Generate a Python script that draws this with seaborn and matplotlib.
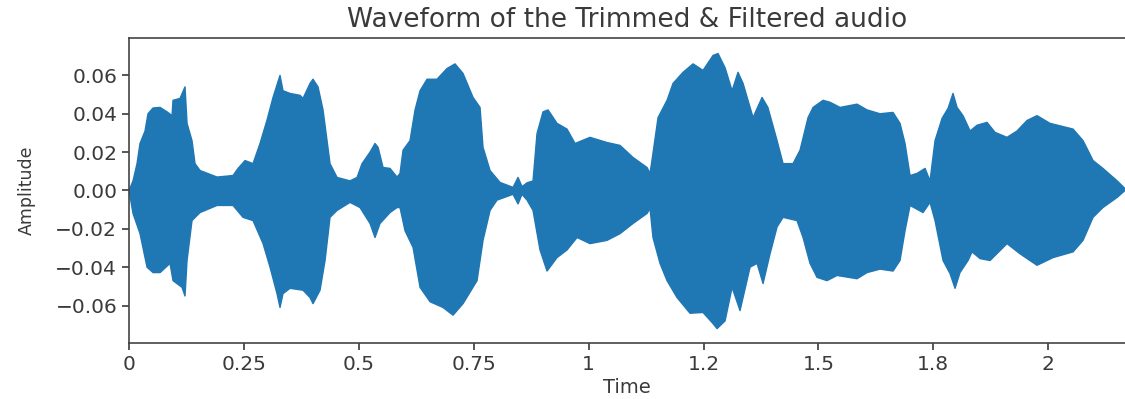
import numpy as np
import matplotlib
matplotlib.use("Agg")
import matplotlib.pyplot as plt
import seaborn as sns

# Upper envelope of the waveform (time in s, amplitude)
upper_t = [0.000, 0.0087, 0.0174, 0.0239, 0.0348, 0.0413, 0.0522, 0.0675, 0.0827, 0.0936,
           0.0957, 0.111, 0.1218, 0.1262, 0.137, 0.1436, 0.1545, 0.1915, 0.2263, 0.2372,
           0.2524, 0.2698, 0.285, 0.300, 0.3133, 0.322, 0.3285, 0.335, 0.3503, 0.372,
           0.3786, 0.3938, 0.4003, 0.4112, 0.4221, 0.4308, 0.4373, 0.4526, 0.4808, 0.4961,
           0.507, 0.5244, 0.5352, 0.5418, 0.5527, 0.5679, 0.5831, 0.5896, 0.5962, 0.6114,
           0.6223, 0.6332, 0.6484, 0.6701, 0.6919, 0.7093, 0.7267, 0.7485, 0.7637, 0.7702,
           0.7855, 0.8072, 0.8355, 0.8464, 0.855, 0.866, 0.879, 0.8877, 0.9008, 0.9117,
           0.9312, 0.953, 0.9704, 1.003, 1.040, 1.0683, 1.0966, 1.127, 1.1336, 1.140,
           1.151, 1.1706, 1.1836, 1.2054, 1.2272, 1.2489, 1.2707, 1.2816, 1.2968, 1.3121,
           1.325, 1.336, 1.3577, 1.3773, 1.390, 1.410, 1.423, 1.4447, 1.460, 1.4774,
           1.4883, 1.510, 1.5252, 1.547, 1.584, 1.6058, 1.634, 1.6623, 1.6775, 1.6884,
           1.6993, 1.7145, 1.732, 1.7428, 1.7537, 1.769, 1.782, 1.7928, 1.8016, 1.8146,
           1.830, 1.845, 1.8668, 1.8842, 1.9103, 1.932, 1.9539, 1.9756, 2.0039, 2.054,
           2.0757, 2.0975, 2.119, 2.150, 2.167]
upper_a = [0.000, 0.005, 0.014, 0.0245, 0.031, 0.040, 0.043, 0.0433, 0.041, 0.039,
           0.047, 0.048, 0.054, 0.035, 0.026, 0.014, 0.0104, 0.007, 0.0078, 0.0115,
           0.0156, 0.014, 0.0245, 0.0365, 0.0485, 0.055, 0.060, 0.052, 0.0506, 0.0496,
           0.048, 0.0558, 0.058, 0.054, 0.042, 0.026, 0.014, 0.0068, 0.005, 0.0068,
           0.014, 0.020, 0.0245, 0.0225, 0.012, 0.0115, 0.007, 0.0089, 0.021, 0.026,
           0.042, 0.052, 0.058, 0.058, 0.0636, 0.066, 0.061, 0.0485, 0.0433, 0.0225,
           0.0104, 0.0042, 0.0016, 0.0068, 0.002, 0.004, 0.005, 0.0297, 0.041, 0.042,
           0.035, 0.032, 0.0245, 0.0277, 0.025, 0.0235, 0.0172, 0.012, 0.0089, 0.0193,
           0.038, 0.047, 0.0558, 0.0616, 0.066, 0.0626, 0.0704, 0.0714, 0.064, 0.052,
           0.0616, 0.0558, 0.038, 0.0485, 0.0433, 0.026, 0.014, 0.014, 0.021, 0.038,
           0.0433, 0.047, 0.046, 0.0433, 0.045, 0.042, 0.040, 0.0407, 0.035, 0.0245,
           0.0078, 0.0089, 0.0115, 0.005, 0.026, 0.0376, 0.0428, 0.0506, 0.0433, 0.039,
           0.031, 0.034, 0.0355, 0.0303, 0.0277, 0.031, 0.0365, 0.039, 0.035, 0.032,
           0.026, 0.0156, 0.0115, 0.005, 0.001]

# Lower envelope of the waveform
lower_t = [0.000, 0.0087, 0.0239, 0.0392, 0.0522, 0.0675, 0.0892, 0.0957, 0.1153, 0.1218,
           0.1262, 0.137, 0.1545, 0.1915, 0.2263, 0.248, 0.2698, 0.2916, 0.3068, 0.322,
           0.3285, 0.335, 0.3503, 0.3786, 0.3938, 0.4003, 0.4156, 0.4265, 0.4373, 0.4526,
           0.4808, 0.5026, 0.5244, 0.5352, 0.5461, 0.5679, 0.5831, 0.5896, 0.6005, 0.618,
           0.6332, 0.655, 0.6832, 0.705, 0.7267, 0.7572, 0.7702, 0.7855, 0.8007, 0.8355,
           0.8464, 0.855, 0.866, 0.879, 0.8942, 0.9095, 0.9312, 0.953, 0.9748, 1.003,
           1.040, 1.0683, 1.0966, 1.127, 1.1336, 1.140, 1.1553, 1.1706, 1.1923, 1.2206,
           1.2489, 1.2707, 1.2794, 1.2968, 1.3121, 1.3294, 1.3512, 1.3664, 1.3795, 1.3947,
           1.410, 1.423, 1.4534, 1.4665, 1.4817, 1.497, 1.5187, 1.5405, 1.584, 1.6058,
           1.634, 1.6623, 1.6775, 1.6884, 1.6993, 1.7276, 1.7428, 1.7537, 1.7711, 1.7863,
           1.7972, 1.808, 1.8255, 1.8342, 1.8516, 1.8734, 1.9103, 1.9386, 1.9756, 2.0104,
           2.054, 2.0757, 2.0975, 2.119, 2.150, 2.167]
lower_a = [0.000, -0.012, -0.0225, -0.040, -0.0428, -0.0428, -0.038, -0.047, -0.0505, -0.055,
           -0.0365, -0.0157, -0.0115, -0.0078, -0.0078, -0.014, -0.0157, -0.0277, -0.040, -0.0538,
           -0.061, -0.0538, -0.051, -0.052, -0.0558, -0.059, -0.052, -0.0365, -0.014, -0.0104,
           -0.0062, -0.0089, -0.0172, -0.0245, -0.0172, -0.0115, -0.0089, -0.0089, -0.021, -0.0297,
           -0.0505, -0.058, -0.061, -0.065, -0.059, -0.047, -0.026, -0.0104, -0.005, -0.002,
           -0.007, -0.002, -0.005, -0.0104, -0.031, -0.042, -0.035, -0.031, -0.0245, -0.0277,
           -0.026, -0.0225, -0.0172, -0.012, -0.0094, -0.0245, -0.038, -0.047, -0.0558, -0.064,
           -0.0636, -0.0694, -0.072, -0.068, -0.0505, -0.0626, -0.040, -0.038, -0.0485, -0.033,
           -0.019, -0.014, -0.0157, -0.0245, -0.038, -0.0453, -0.047, -0.0443, -0.046, -0.0428,
           -0.041, -0.042, -0.0365, -0.021, -0.0078, -0.0115, -0.0062, -0.0157, -0.0365, -0.0433,
           -0.051, -0.0428, -0.0365, -0.032, -0.0355, -0.0365, -0.0277, -0.033, -0.039, -0.035,
           -0.032, -0.026, -0.014, -0.0089, -0.0036, 0.000]

xtick_pos = [0, 0.25, 0.5, 0.75, 1.0, 1.25, 1.5, 1.75, 2.0]
xtick_labels = ["0", "0.25", "0.5", "0.75", "1", "1.2", "1.5", "1.8", "2"]
ytick_pos = [-0.06, -0.04, -0.02, 0.0, 0.02, 0.04, 0.06]

sns.set_style("ticks")
plt.rcParams["font.family"] = ["DejaVu Sans"]

color = "#1f77b4"
txt = "#3a3a3a"
fig = plt.figure(figsize=(11.25, 3.99), dpi=100)
ax = fig.add_axes([0.1147, 0.1404, 0.8853, 0.7644])

poly_t = list(upper_t) + list(lower_t[::-1])
poly_a = list(upper_a) + list(lower_a[::-1])
ax.fill(poly_t, poly_a, color=color, lw=0)
sns.lineplot(x=upper_t, y=upper_a, ax=ax, color=color, lw=1.0, sort=False, estimator=None)
sns.lineplot(x=lower_t, y=lower_a, ax=ax, color=color, lw=1.0, sort=False, estimator=None)

ax.set_xlim(0, 2.167)
ax.set_ylim(-0.0795, 0.0795)
ax.set_xticks(xtick_pos)
ax.set_xticklabels(xtick_labels)
ax.set_yticks(ytick_pos)
ax.set_yticklabels([f"{v:.2f}".replace("-", "\u2212") for v in ytick_pos])
ax.tick_params(labelsize=14.5, colors=txt, length=5, width=1.2, labelcolor=txt)
for s in ["left", "bottom", "top"]:
    ax.spines[s].set_color("#444444")
    ax.spines[s].set_linewidth(1.2)
ax.spines["right"].set_visible(False)

ax.set_title("Waveform of the Trimmed & Filtered audio", fontsize=19, color=txt, pad=8)
ax.set_xlabel("Time", fontsize=14, color=txt, labelpad=3)
ax.set_ylabel("Amplitude", fontsize=12.5, color=txt, labelpad=14)

fig.savefig("out.png", dpi=100)
